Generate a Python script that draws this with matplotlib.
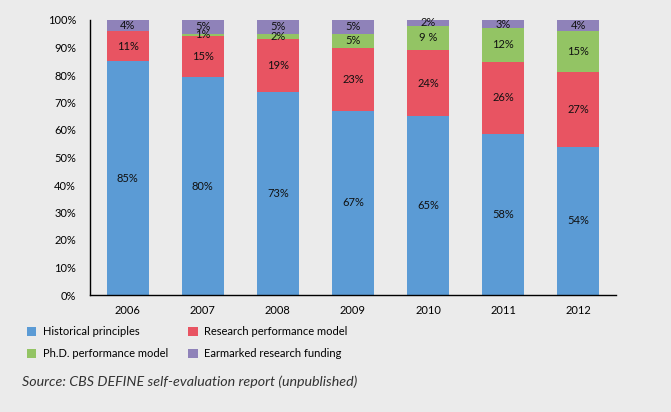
import matplotlib
matplotlib.use("Agg")
import matplotlib.pyplot as plt
import numpy as np
from matplotlib.patches import Patch

plt.rcParams['font.family'] = ['Lato', 'DejaVu Sans']

years = ["2006", "2007", "2008", "2009", "2010", "2011", "2012"]
series_names = ["Historical principles", "Research performance model",
                "Ph.D. performance model", "Earmarked research funding"]
historical = [85, 80, 73, 67, 65, 58, 54]
research = [11, 15, 19, 23, 24, 26, 27]
phd = [0, 1, 2, 5, 9, 12, 15]
earmarked = [4, 5, 5, 5, 2, 3, 4]
phd_labels = ["", "1%", "2%", "5%", "9 %", "12%", "15%"]
colors = ["#5B9BD5", "#E85462", "#93C464", "#8F82B9"]
bg = "#EBEBEB"

data = np.array([historical, research, phd, earmarked], dtype=float)
totals = data.sum(axis=0)
shares = data / totals

fig = plt.figure(figsize=(6.71, 4.12), dpi=100, facecolor=bg)
ax = fig.add_axes([90/671, 1-295/412, (616-90)/671, (295-20)/412], facecolor=bg)

x = np.arange(len(years))
bottom = np.zeros(len(years))
for i in range(4):
    ax.bar(x, shares[i], 0.56, bottom=bottom, color=colors[i], linewidth=0)
    for j in range(len(years)):
        if data[i, j] <= 0:
            continue
        if i == 2:
            txt = phd_labels[j]
        else:
            txt = f"{int(data[i, j])}%"
        ax.text(x[j], bottom[j] + shares[i, j]/2, txt, ha='center', va='center',
                fontsize=8, color='#111111')
    bottom += shares[i]

ax.set_xlim(-0.5, len(years) - 0.5)
ax.set_ylim(0, 1.0)
ax.set_yticks(np.arange(0, 1.01, 0.1))
ax.set_yticklabels([f"{v}%" for v in range(0, 101, 10)], fontsize=8)
ax.set_xticks(x)
ax.set_xticklabels(years, fontsize=8)
ax.tick_params(axis='both', length=0)
ax.tick_params(axis='y', pad=10)
ax.tick_params(axis='x', pad=7)
for s in ['top', 'right']:
    ax.spines[s].set_visible(False)
for s in ['left', 'bottom']:
    ax.spines[s].set_color('black')
    ax.spines[s].set_linewidth(1.0)

handles = [Patch(facecolor=colors[k], edgecolor='none', label=series_names[k]) for k in [0, 2, 1, 3]]
fig.legend(handles=handles, ncol=2, loc='upper left',
           bbox_to_anchor=(17/671, 1-316/412), frameon=False, fontsize=8,
           handlelength=0.85, handleheight=0.85, handletextpad=0.6,
           columnspacing=1.8, labelspacing=1.0, borderpad=0.4)

fig.text(22/671, 1-382/412, "Source: CBS DEFINE self-evaluation report (unpublished)",
         fontsize=10.3, style='italic', color='#333333', va='center', ha='left')

fig.savefig("out.png", dpi=100, facecolor=bg)
